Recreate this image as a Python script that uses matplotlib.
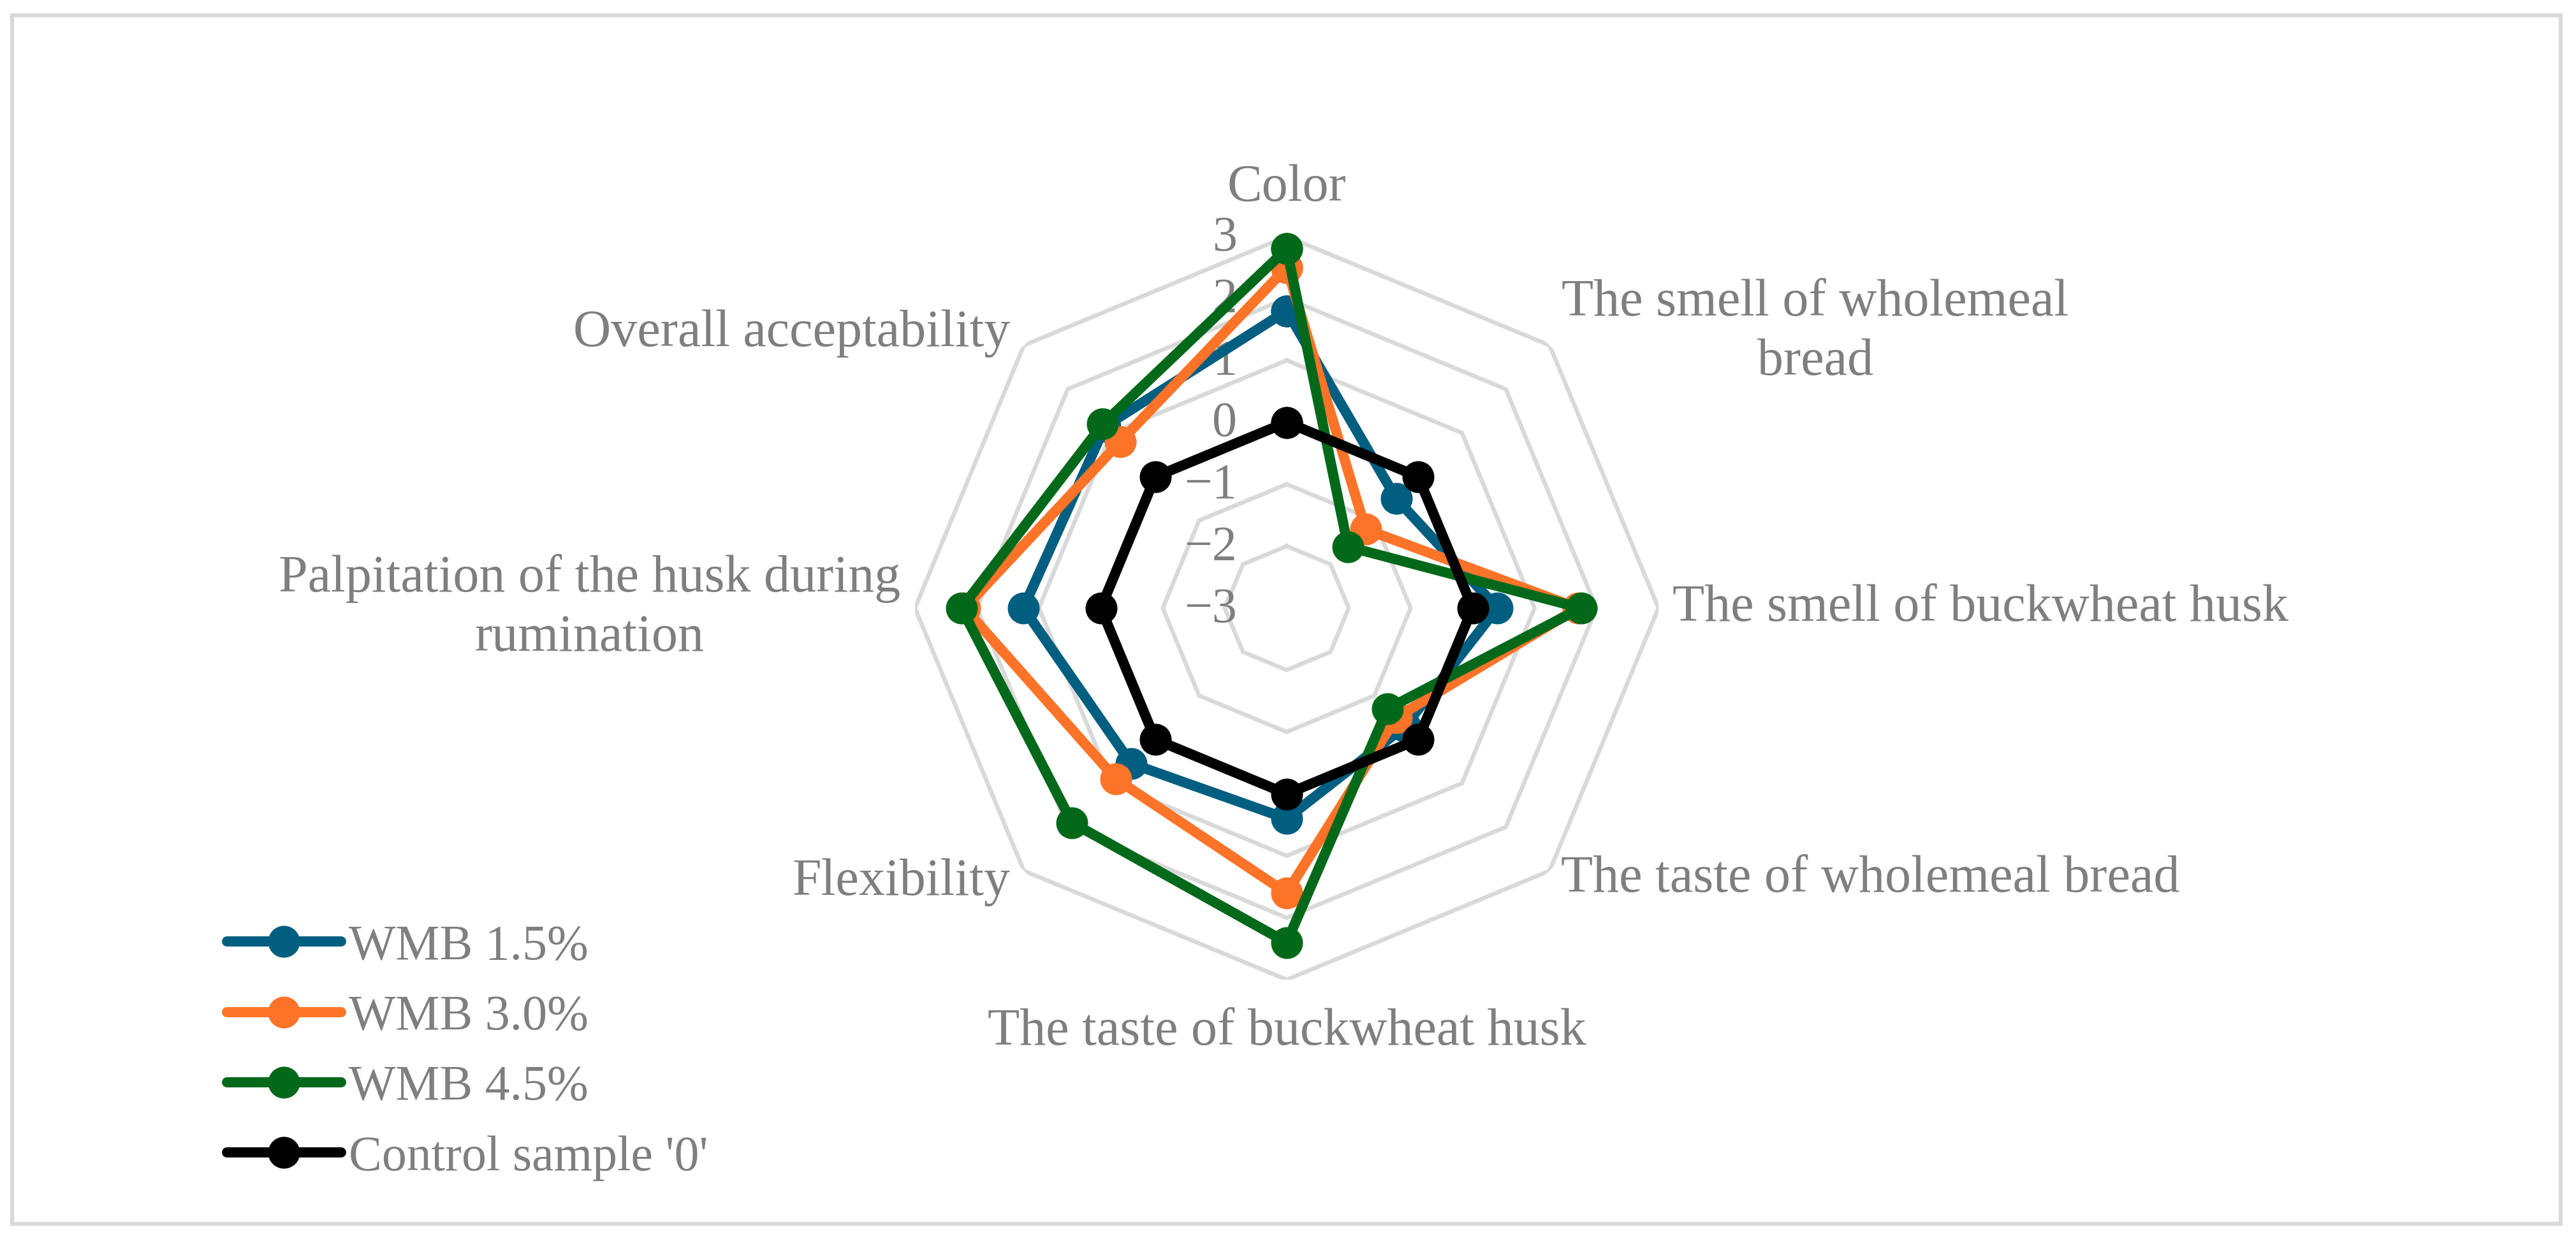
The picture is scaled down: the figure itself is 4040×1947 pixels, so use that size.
import numpy as np
import matplotlib
matplotlib.use("Agg")
import matplotlib.pyplot as plt
from matplotlib.patches import Rectangle
import matplotlib.transforms as mtransforms

# ---------------- data ----------------
categories = [
    "Color",
    "The smell of wholemeal\nbread",
    "The smell of buckwheat husk",
    "The taste of wholemeal bread",
    "The taste of buckwheat husk",
    "Flexibility",
    "Palpitation of the husk during\nrumination",
    "Overall acceptability",
]
series_names = ["WMB 1.5%", "WMB 3.0%", "WMB 4.5%", "Control sample '0'"]
wmb_15 = [1.8, -0.5, 0.4, -0.3, 0.4, 0.55, 1.25, 1.15]
wmb_30 = [2.5, -1.2, 1.7, -0.5, 1.6, 0.9, 2.2, 0.8]
wmb_45 = [2.8, -1.6, 1.75, -0.7, 2.4, 1.9, 2.25, 1.2]
control = [0, 0, 0, 0, 0, 0, 0, 0]
ticks = [-3, -2, -1, 0, 1, 2, 3]
tick_labels = ["\u22123", "\u22122", "\u22121", "0", "1", "2", "3"]

# ---------------- styles ----------------
colors = ["#005E80", "#FD7328", "#03691A", "#000000"]
grid_color = "#D9D9D9"
text_color = "#7F7F7F"
font = "Liberation Serif"
plt.rcParams["font.family"] = [font, "DejaVu Serif"]

W_PX, H_PX = 4040, 1947
DPI = 100
fig = plt.figure(figsize=(W_PX / DPI, H_PX / DPI), dpi=DPI)
fig.patch.set_facecolor("white")

cx, cy, R = 2018, 954, 583  # centre and outer radius in pixels
ax = fig.add_axes([(cx - R) / W_PX, (H_PX - cy - R) / H_PX, 2 * R / W_PX, 2 * R / H_PX],
                  projection="polar")
ax.set_theta_offset(np.pi / 2)
ax.set_theta_direction(-1)
ax.set_ylim(ticks[0], ticks[-1])
ax.axis("off")

n = len(categories)
theta = np.arange(n) * 2 * np.pi / n
theta_closed = np.append(theta, theta[0])

# octagonal grid
for t in ticks[1:]:
    ax.plot(theta_closed, [t] * (n + 1), color=grid_color, lw=4.8, zorder=1,
            solid_joinstyle="miter")

# series
handles = []
for vals, col, name in zip([wmb_15, wmb_30, wmb_45, control], colors, series_names):
    v = np.append(vals, vals[0])
    h, = ax.plot(theta_closed, v, color=col, lw=11.5, marker="o", markersize=35,
                 markerfacecolor=col, markeredgecolor=col, zorder=3,
                 solid_joinstyle="round", solid_capstyle="round", label=name,
                 clip_on=False)
    handles.append(h)

# radial tick labels
for t, lab in zip(ticks, tick_labels):
    tr = mtransforms.offset_copy(ax.transData, fig=fig, x=-78, y=-3, units="dots")
    ax.text(0, t, lab, transform=tr, ha="right", va="center", fontsize=56,
            color=text_color, zorder=2)

# category labels: (dx, dy in pixels, ha, va)
label_layout = [
    (0, 76, "center", "center"),
    (19, 20, "left", "center"),
    (22, 0, "left", "center"),
    (18, -13, "left", "center"),
    (0, -82, "center", "center"),
    (-21, -18, "right", "center"),
    (-23, 0, "right", "center"),
    (-21, 19, "right", "center"),
]
for th, lab, (dx, dy, ha, va) in zip(theta, categories, label_layout):
    tr = mtransforms.offset_copy(ax.transData, fig=fig, x=dx, y=dy, units="dots")
    ax.text(th, ticks[-1], lab, transform=tr, ha=ha, va=va, fontsize=59,
            color=text_color, multialignment="center", linespacing=1.32)

# legend
leg = fig.legend(handles, series_names, loc="upper left",
                 bbox_to_anchor=(356 / W_PX, 1 - 1450 / H_PX),
                 frameon=False, fontsize=56, handlelength=2.3,
                 handletextpad=0.15, labelspacing=0.5, borderpad=0,
                 borderaxespad=0, numpoints=1)
for txt in leg.get_texts():
    txt.set_color(text_color)

# outer border
fig.add_artist(Rectangle((19 / W_PX, 1 - 1920 / H_PX), (4016 - 19) / W_PX, (1920 - 24) / H_PX,
                         transform=fig.transFigure, fill=False, edgecolor=grid_color, lw=4.5))

fig.savefig("out.png", dpi=DPI, facecolor="white")
